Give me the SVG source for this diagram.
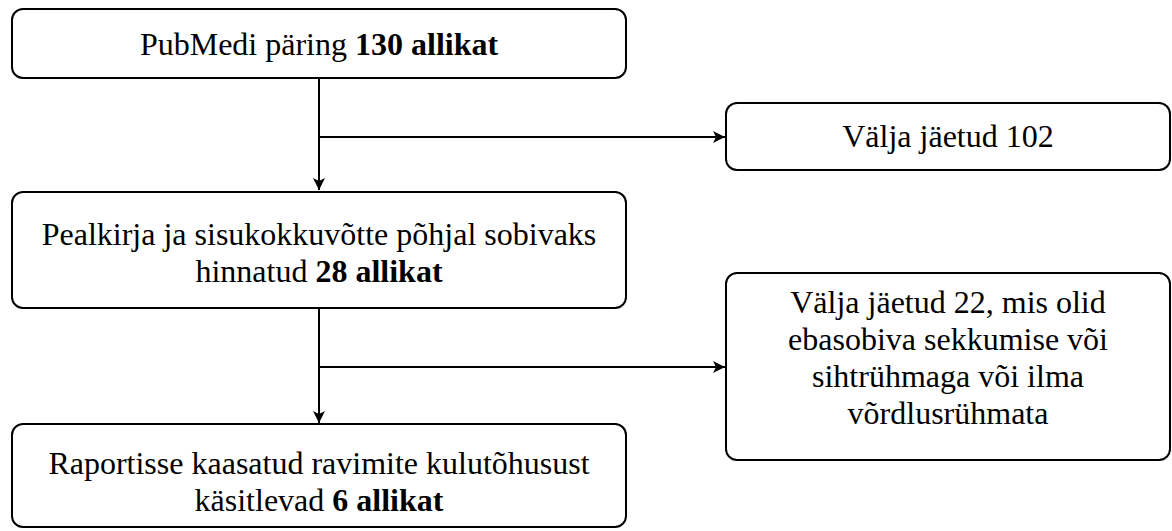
<svg xmlns="http://www.w3.org/2000/svg" width="1172" height="531" viewBox="0 0 1172 531">
<style>
.box{fill:#fff;stroke:#000;stroke-width:2}
.t{font-family:'Liberation Serif','Times New Roman',serif;font-size:32px;fill:#000;text-anchor:middle}
.b{font-weight:bold}
.c{fill:none;stroke:#000;stroke-width:2}
</style>
<defs>
<marker id="ah" markerWidth="12" markerHeight="12" refX="12" refY="6" orient="auto" markerUnits="userSpaceOnUse">
<path d="M0,0 L12,6 L0,12 L3,6 Z" fill="#000"/>
</marker>
</defs>
<rect width="1172" height="531" fill="#fff"/>
<g id="connectors">
<line class="c" x1="319" y1="78" x2="319" y2="190" marker-end="url(#ah)"/>
<line class="c" x1="319" y1="137" x2="725" y2="137" marker-end="url(#ah)"/>
<line class="c" x1="319" y1="308" x2="319" y2="423" marker-end="url(#ah)"/>
<line class="c" x1="319" y1="367" x2="725" y2="367" marker-end="url(#ah)"/>
</g>
<g id="n1">
<rect class="box" x="12" y="9" width="614" height="69" rx="11"/>
<text class="t" x="319" y="55">PubMedi päring <tspan class="b">130 allikat</tspan></text>
</g>
<g id="n2">
<rect class="box" x="726" y="103" width="444" height="67" rx="11"/>
<text class="t" x="948" y="147">Välja jäetud 102</text>
</g>
<g id="n3">
<rect class="box" x="12" y="192" width="614" height="116" rx="11"/>
<text class="t" x="319" y="245">Pealkirja ja sisukokkuvõtte põhjal sobivaks</text>
<text class="t" x="319" y="282">hinnatud <tspan class="b">28 allikat</tspan></text>
</g>
<g id="n4">
<rect class="box" x="726" y="273" width="444" height="187" rx="11"/>
<text class="t" x="948" y="313">Välja jäetud 22, mis olid</text>
<text class="t" x="948" y="350">ebasobiva sekkumise või</text>
<text class="t" x="948" y="387">sihtrühmaga või ilma</text>
<text class="t" x="948" y="424">võrdlusrühmata</text>
</g>
<g id="n5">
<rect class="box" x="12" y="424" width="614" height="103" rx="11"/>
<text class="t" x="319" y="474">Raportisse kaasatud ravimite kulutõhusust</text>
<text class="t" x="319" y="511">käsitlevad <tspan class="b">6 allikat</tspan></text>
</g>
</svg>
